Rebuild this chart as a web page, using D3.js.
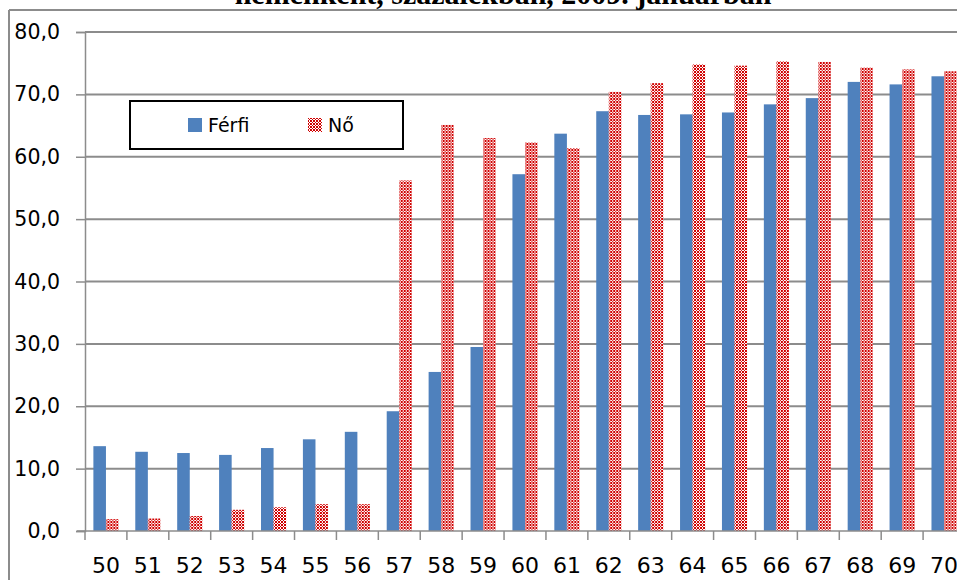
<!DOCTYPE html>
<html>
<head>
<meta charset="utf-8">
<script src="https://cdn.jsdelivr.net/npm/d3@7"></script>
<style>
  body { margin: 0; background: #fff; }
  svg { display: block; }
</style>
</head>
<body>
<div id="chart"></div>
<script>
var w = 957;
var h = 580;

// data
var ages = ["50","51","52","53","54","55","56","57","58","59","60","61","62","63","64","65","66","67","68","69","70"];
var ferfi = [13.6, 12.7, 12.5, 12.2, 13.3, 14.7, 15.9, 19.2, 25.5, 29.5, 57.2, 63.7, 67.3, 66.7, 66.8, 67.1, 68.4, 69.4, 72.0, 71.6, 72.9];
var no = [1.9, 2.0, 2.4, 3.4, 3.8, 4.3, 4.3, 56.2, 65.1, 63.0, 62.3, 61.4, 70.4, 71.8, 74.8, 74.6, 75.3, 75.2, 74.3, 74.0, 73.7];
var series = ["Férfi", "Nő"];
var yTicks = [0, 10, 20, 30, 40, 50, 60, 70, 80];
var title = "nemenként, százalékban, 2009. januárban";

var svg = d3.select("#chart")
  .append("svg")
  .attr("width", w)
  .attr("height", h);

// red pattern for the Nő series
var defs = svg.append("defs");
var pat = defs.append("pattern")
  .attr("id", "redpat")
  .attr("patternUnits", "userSpaceOnUse")
  .attr("width", 6)
  .attr("height", 6);
pat.append("rect").attr("width", 6).attr("height", 6).attr("fill", "#fff");
var dots = [[0,0],[2,0],[3,0],[5,0],[1,1],[4,1],[0,2],[2,2],[3,2],[5,2],[0,3],[2,3],[3,3],[5,3],[1,4],[4,4],[0,5],[2,5],[3,5],[5,5]];
pat.selectAll("rect.d")
  .data(dots)
  .enter()
  .append("rect")
  .attr("class", "d")
  .attr("x", function(d){ return d[0]; })
  .attr("y", function(d){ return d[1]; })
  .attr("width", 1)
  .attr("height", 1)
  .attr("fill", "#d00000");

var colors = { "Férfi": "#4f81bd", "Nő": "url(#redpat)" };

// chart frame
svg.append("line")
  .attr("x1", 9).attr("x2", w).attr("y1", 10).attr("y2", 10)
  .attr("stroke", "#8c8c8c").attr("stroke-width", 2);
svg.append("line")
  .attr("x1", 9).attr("x2", 9).attr("y1", 10).attr("y2", h)
  .attr("stroke", "#8c8c8c").attr("stroke-width", 2);

// title (mostly cut off at the top, as in the original)
svg.append("text")
  .attr("x", 503)
  .attr("y", 4)
  .attr("text-anchor", "middle")
  .style("font-family", "'Liberation Serif', serif")
  .style("font-weight", "bold")
  .style("font-size", "30px")
  .text(title);

var x = d3.scaleBand()
  .domain(ages)
  .range([85, 965])
  .paddingInner(0.4)
  .paddingOuter(0.2);

var x1 = d3.scaleBand()
  .domain(series)
  .range([0, x.bandwidth()]);

var y = d3.scaleLinear()
  .domain([0, 80])
  .range([531, 32]);

// grid lines
svg.selectAll("line.grid")
  .data(yTicks.slice(1))
  .enter()
  .append("line")
  .attr("class", "grid")
  .attr("x1", 85).attr("x2", w)
  .attr("y1", function(d){ return y(d); })
  .attr("y2", function(d){ return y(d); })
  .attr("stroke", "#8c8c8c")
  .attr("stroke-width", 2);

// y axis
var yAxis = svg.append("g")
  .attr("transform", "translate(85,0)")
  .call(d3.axisLeft(y).tickValues(yTicks).tickSize(9).tickPadding(16)
    .tickFormat(function(d){ return d3.format(".1f")(d).replace(".", ","); }));
yAxis.select(".domain").attr("stroke", "#8c8c8c").attr("stroke-width", 1.5);
yAxis.selectAll(".tick line").attr("stroke", "#8c8c8c").attr("stroke-width", 1.5);
yAxis.selectAll(".tick text")
  .style("font-family", "'DejaVu Sans', sans-serif")
  .style("font-size", "20.5px")
  .attr("fill", "#000");

// bars
var groups = svg.selectAll("g.age")
  .data(ages)
  .enter()
  .append("g")
  .attr("class", "age")
  .attr("transform", function(d){ return "translate(" + x(d) + ",0)"; });

groups.selectAll("rect")
  .data(function(d, i){
    return [{ s: "Férfi", v: ferfi[i] }, { s: "Nő", v: no[i] }];
  })
  .enter()
  .append("rect")
  .attr("x", function(d){ return x1(d.s); })
  .attr("y", function(d){ return y(d.v); })
  .attr("width", x1.bandwidth())
  .attr("height", function(d){ return y(0) - y(d.v); })
  .attr("fill", function(d){ return colors[d.s]; });

// x axis
var gap = (x.step() - x.bandwidth()) / 2;
svg.append("line")
  .attr("x1", 77).attr("x2", w).attr("y1", y(0)).attr("y2", y(0))
  .attr("stroke", "#8c8c8c").attr("stroke-width", 1.5);
svg.selectAll("line.xtick")
  .data(ages)
  .enter()
  .append("line")
  .attr("class", "xtick")
  .attr("x1", function(d){ return x(d) - gap; })
  .attr("x2", function(d){ return x(d) - gap; })
  .attr("y1", y(0))
  .attr("y2", y(0) + 9)
  .attr("stroke", "#8c8c8c")
  .attr("stroke-width", 1.5);
svg.selectAll("text.xlab")
  .data(ages)
  .enter()
  .append("text")
  .attr("class", "xlab")
  .attr("x", function(d){ return x(d) + x.bandwidth() / 2; })
  .attr("y", 573)
  .attr("text-anchor", "middle")
  .style("font-family", "'DejaVu Sans', sans-serif")
  .style("font-size", "22px")
  .text(function(d){ return d; });

// legend
var leg = svg.append("g");
leg.append("rect")
  .attr("x", 130).attr("y", 101)
  .attr("width", 273).attr("height", 48)
  .attr("fill", "#fff")
  .attr("stroke", "#000")
  .attr("stroke-width", 2);
var items = leg.selectAll("g.item")
  .data(series)
  .enter()
  .append("g")
  .attr("class", "item")
  .attr("transform", function(d, i){ return "translate(" + (188 + i * 120) + ",118)"; });
items.append("rect")
  .attr("width", 14)
  .attr("height", 14)
  .attr("fill", function(d){ return colors[d]; });
items.append("text")
  .attr("x", 20)
  .attr("y", 14)
  .style("font-family", "'DejaVu Sans', sans-serif")
  .style("font-size", "19px")
  .text(function(d){ return d; });
</script>
</body>
</html>
